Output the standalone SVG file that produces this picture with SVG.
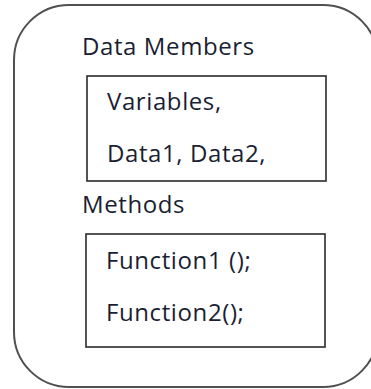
<svg xmlns="http://www.w3.org/2000/svg" width="371" height="389" viewBox="0 0 371 389">
  <style>
    .outer { fill: #ffffff; stroke: #505050; stroke-width: 2; }
    .box { fill: #ffffff; stroke: #2a2a2a; stroke-width: 1.6; }
    .label { font-family: "Open Sans", "Noto Sans", "Liberation Sans", sans-serif; font-size: 24px; letter-spacing: 0.6px; fill: #1a1f33; }
  </style>
  <rect width="371" height="389" fill="#ffffff"/>

  <!-- class container -->
  <g id="class">
    <rect class="outer" x="14" y="5" width="364" height="382" rx="55" ry="55"/>
  </g>

  <!-- data member section -->
  <g id="data-members">
    <text class="label" x="82" y="55">Data Members</text>
    <rect class="box" x="87" y="76" width="239" height="105"/>
    <text class="label" x="107" y="110">Variables,</text>
    <text class="label" x="107" y="162">Data1, Data2,</text>
  </g>

  <!-- method section -->
  <g id="methods">
    <text class="label" x="82" y="213">Methods</text>
    <rect class="box" x="86" y="234" width="239" height="113"/>
    <text class="label" x="106" y="269">Function1 ();</text>
    <text class="label" x="106" y="321">Function2();</text>
  </g>
</svg>
